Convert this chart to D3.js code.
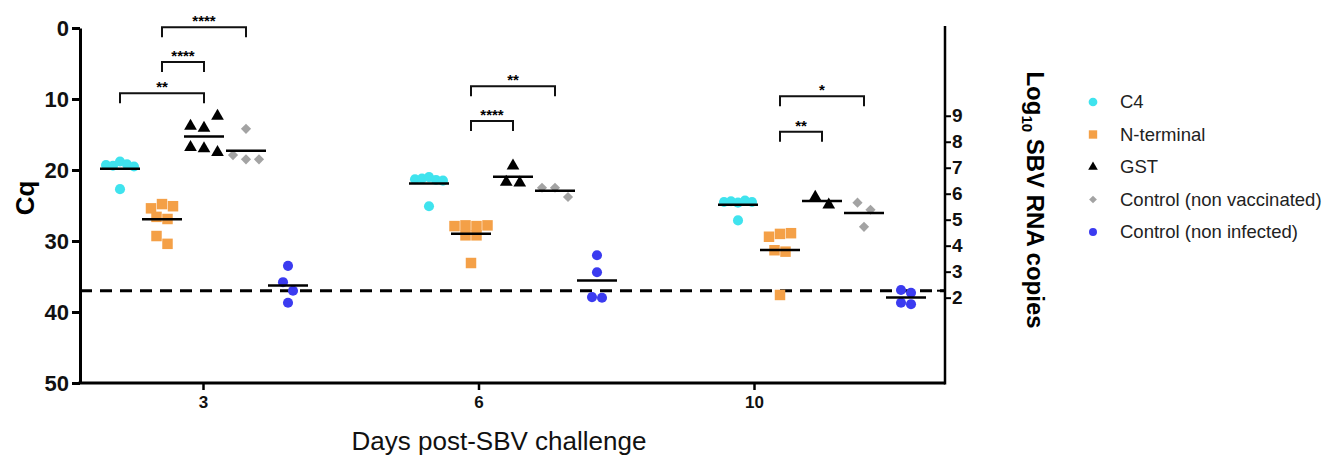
<!DOCTYPE html>
<html>
<head>
<meta charset="utf-8">
<script src="https://cdn.jsdelivr.net/npm/d3@7"></script>
<style>
  body { margin: 0; background: #fff; }
  svg { display: block; font-family: Arial, 'Liberation Sans', sans-serif; }
</style>
</head>
<body>
<svg id="chart" width="1343" height="456"></svg>
<script>
// data (Cq values, lower = more virus)
const days = ['3', '6', '10']
const groups = ['C4', 'N-terminal', 'GST', 'Control (non vaccinated)', 'Control (non infected)']

const c4 = [
  [19.3, 19.4, 18.8, 19.2, 19.5, 22.7],
  [21.3, 21.2, 21.0, 21.4, 21.5, 25.1],
  [24.5, 24.4, 24.6, 24.3, 24.5, 27.1]
]
const nTerminal = [
  [25.4, 24.8, 25.1, 26.6, 26.9, 29.3, 30.4],
  [27.9, 27.8, 27.9, 27.8, 29.2, 29.2, 33.1],
  [29.4, 29.0, 28.9, 31.3, 31.5, 37.6]
]
const gst = [
  [13.8, 14.1, 12.4, 16.8, 17.0, 17.5],
  [19.4, 21.7, 21.8],
  [23.8, 24.9]
]
const ctrlNonVacc = [
  [14.2, 17.9, 18.5, 18.5],
  [22.5, 22.5, 23.8],
  [24.6, 25.6, 28.0]
]
const ctrlNonInf = [
  [33.5, 35.8, 37.0, 38.7],
  [32.0, 34.4, 37.9, 38.0],
  [36.9, 37.3, 38.7, 38.9]
]
const seriesValues = [c4, nTerminal, gst, ctrlNonVacc, ctrlNonInf]

const cqTicks = [0, 10, 20, 30, 40, 50]
const logTicks = [2, 3, 4, 5, 6, 7, 8, 9]
const cqCutoff = 37
// standard curve: Cq = intercept - slope * log10(copies)
const curveIntercept = 45.3
const curveSlope = 3.66

// significance brackets: day, from group, to group, level (Cq), label
const brackets = [
  ['3', 'C4', 'GST', 9.2, '**'],
  ['3', 'N-terminal', 'GST', 4.8, '****'],
  ['3', 'N-terminal', 'Control (non vaccinated)', -0.1, '****'],
  ['6', 'N-terminal', 'GST', 13.1, '****'],
  ['6', 'N-terminal', 'Control (non vaccinated)', 8.2, '**'],
  ['10', 'N-terminal', 'GST', 14.6, '**'],
  ['10', 'N-terminal', 'Control (non vaccinated)', 9.6, '*']
]

const colors = ['#3fe3ee', '#f4a047', '#000000', '#a3a3a3', '#3b3bf0']

const svg = d3.select('#chart')

const plotLeft = 80, plotRight = 945, plotTop = 28, plotBottom = 383

const y = d3.scaleLinear().domain([0, 50]).range([plotTop, plotBottom])
const y2 = d3.scaleLinear()
  .domain([2, 9])
  .range([y(curveIntercept - curveSlope * 2), y(curveIntercept - curveSlope * 9)])
const xDay = d3.scalePoint().domain(days).range([204, 822])
const xGroup = d3.scalePoint().domain(groups).range([-84, 84])
const xTick = d3.scalePoint().domain(days).range([203, 754])

const symbols = [
  d3.symbol().type(d3.symbolCircle).size(80),
  d3.symbol().type(d3.symbolSquare).size(110),
  d3.symbol().type(d3.symbolTriangle).size(70),
  d3.symbol().type(d3.symbolSquare).size(52),
  d3.symbol().type(d3.symbolCircle).size(80)
]
const legendSymbols = [
  d3.symbol().type(d3.symbolCircle).size(60),
  d3.symbol().type(d3.symbolSquare).size(70),
  d3.symbol().type(d3.symbolTriangle).size(40),
  d3.symbol().type(d3.symbolSquare).size(30),
  d3.symbol().type(d3.symbolCircle).size(50)
]
const rotation = [0, 0, 0, 45, 0]
// row height (px) for grouping points, and horizontal spacing within a row
const rowHeight = [9, 9.5, 13, 10, 9]
const rowSpacing = [7, 11, 13.5, 13, 10]

// GraphPad-like scatter: points close in y share a row, centred on the column
function rows(values, h, s) {
  const order = values.map((v, i) => i).sort((a, b) => values[a] - values[b])
  const offsets = new Array(values.length)
  let row = []
  let start = null
  const flush = () => {
    row.sort((a, b) => a - b)
    row.forEach((i, k) => { offsets[i] = (k - (row.length - 1) / 2) * s })
    row = []
  }
  order.forEach(i => {
    const py = y(values[i])
    if (start === null || py - start > h) {
      flush()
      start = py
    }
    row.push(i)
  })
  flush()
  return offsets
}

// cutoff line
svg.append('line')
  .attr('x1', plotLeft).attr('x2', plotRight)
  .attr('y1', y(cqCutoff)).attr('y2', y(cqCutoff))
  .attr('stroke', '#000').attr('stroke-width', 3)
  .attr('stroke-dasharray', '12,8')

// points and means
seriesValues.forEach((series, g) => {
  series.forEach((vals, d) => {
    const cx = xDay(days[d]) + xGroup(groups[g])
    const offs = rows(vals, rowHeight[g], rowSpacing[g])
    svg.append('g').selectAll('path')
      .data(vals)
      .join('path')
      .attr('d', symbols[g])
      .attr('fill', colors[g])
      .attr('transform', (v, i) => `translate(${cx + offs[i]},${y(v)}) rotate(${rotation[g]})`)
    svg.append('line')
      .attr('x1', cx - 20).attr('x2', cx + 20)
      .attr('y1', y(d3.mean(vals))).attr('y2', y(d3.mean(vals)))
      .attr('stroke', '#000').attr('stroke-width', 2.5)
  })
})

// brackets
brackets.forEach(([day, a, b, level, label]) => {
  const x1 = xDay(day) + xGroup(a)
  const x2 = xDay(day) + xGroup(b)
  const by = y(level)
  svg.append('path')
    .attr('d', `M${x1},${by + 10}V${by}H${x2}V${by + 10}`)
    .attr('fill', 'none').attr('stroke', '#111').attr('stroke-width', 2)
  svg.append('text')
    .attr('x', (x1 + x2) / 2).attr('y', by - 1)
    .attr('text-anchor', 'middle')
    .attr('font-size', 15).attr('font-weight', 'bold')
    .text(label)
})

// left axis
const gy = svg.append('g')
  .attr('transform', `translate(${plotLeft},0)`)
  .call(d3.axisLeft(y).tickValues(cqTicks).tickSize(8).tickSizeOuter(0).tickPadding(3))
gy.select('.domain').attr('stroke-width', 3)
gy.selectAll('.tick line').attr('stroke-width', 3)
gy.selectAll('.tick text')
  .attr('font-size', 22).attr('font-weight', 'bold').attr('fill', '#111')
  .attr('font-family', 'Arial, Liberation Sans, sans-serif')

// bottom axis
svg.append('line')
  .attr('x1', plotLeft - 1.5).attr('x2', plotRight)
  .attr('y1', plotBottom).attr('y2', plotBottom)
  .attr('stroke', '#000').attr('stroke-width', 3)
const gx = svg.append('g')
  .attr('transform', `translate(0,${plotBottom})`)
  .call(d3.axisBottom(xTick).tickSize(7).tickPadding(6))
gx.select('.domain').remove()
gx.selectAll('.tick line').attr('stroke-width', 2.5)
gx.selectAll('.tick text')
  .attr('font-size', 17).attr('font-weight', 'bold').attr('fill', '#111')
  .attr('font-family', 'Arial, Liberation Sans, sans-serif')

// right axis
svg.append('line')
  .attr('x1', plotRight).attr('x2', plotRight)
  .attr('y1', 26).attr('y2', plotBottom + 1.5)
  .attr('stroke', '#000').attr('stroke-width', 2.5)
const gr = svg.append('g')
  .attr('transform', `translate(${plotRight},0)`)
  .call(d3.axisRight(y2).tickValues(logTicks).tickFormat(d3.format('d')).tickSize(6).tickPadding(1))
gr.select('.domain').remove()
gr.selectAll('.tick line').attr('stroke-width', 2)
gr.selectAll('.tick text')
  .attr('font-size', 19).attr('font-weight', 'bold').attr('fill', '#111')
  .attr('font-family', 'Arial, Liberation Sans, sans-serif')
svg.append('line')
  .attr('x1', plotRight - 8).attr('x2', plotRight)
  .attr('y1', y(cqCutoff)).attr('y2', y(cqCutoff))
  .attr('stroke', '#000').attr('stroke-width', 2)

// axis titles
svg.append('text')
  .attr('transform', 'translate(34,198) rotate(-90)')
  .attr('text-anchor', 'middle')
  .attr('font-size', 26).attr('font-weight', 'bold')
  .text('Cq')

svg.append('text')
  .attr('x', 499).attr('y', 450)
  .attr('text-anchor', 'middle')
  .attr('font-size', 26).attr('fill', '#111')
  .text('Days post-SBV challenge')

const rt = svg.append('text')
  .attr('transform', 'translate(1027,200) rotate(90)')
  .attr('text-anchor', 'middle')
  .attr('font-size', 24).attr('font-weight', 'bold')
rt.append('tspan').text('Log')
rt.append('tspan').attr('font-size', 15).attr('dy', 5).text('10')
rt.append('tspan').attr('dy', -5).text(' SBV RNA copies')

// legend
const legend = svg.append('g').attr('transform', 'translate(1093,102)')
groups.forEach((name, g) => {
  const row = legend.append('g').attr('transform', `translate(0,${g * 32.5})`)
  row.append('path')
    .attr('d', legendSymbols[g])
    .attr('fill', colors[g])
    .attr('transform', `rotate(${rotation[g]})`)
  row.append('text')
    .attr('x', 27).attr('y', 6)
    .attr('font-size', 18.5).attr('fill', '#222')
    .text(name)
})
</script>
</body>
</html>
